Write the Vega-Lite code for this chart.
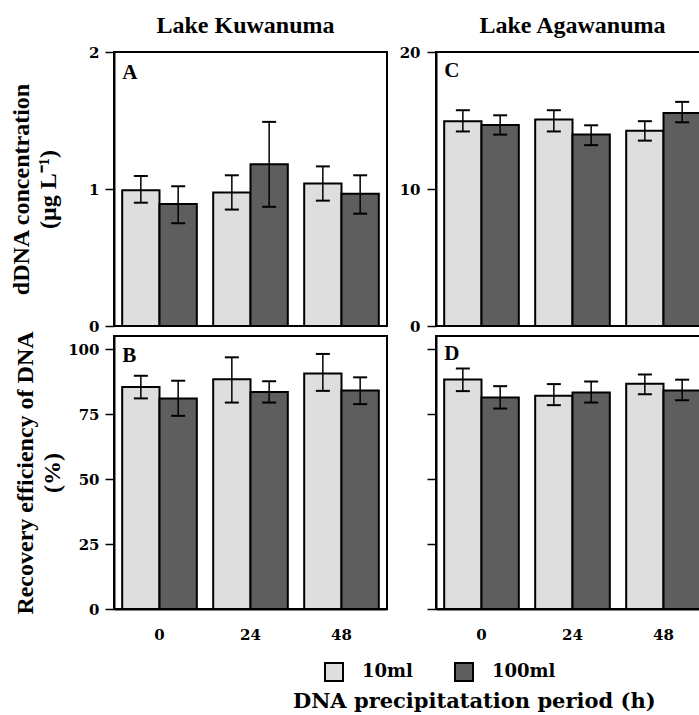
{
  "$schema": "https://vega.github.io/schema/vega-lite/v6.json",
  "background": "white",
  "padding": {"left": 8, "top": 13, "right": 0, "bottom": 4},
  "datasets": {
    "bars": [
      {"panel": "A", "time": "0", "volume": "10ml", "value": 0.99, "lo": 0.9, "hi": 1.095},
      {"panel": "A", "time": "0", "volume": "100ml", "value": 0.89, "lo": 0.75, "hi": 1.02},
      {"panel": "A", "time": "24", "volume": "10ml", "value": 0.975, "lo": 0.85, "hi": 1.1},
      {"panel": "A", "time": "24", "volume": "100ml", "value": 1.18, "lo": 0.87, "hi": 1.49},
      {"panel": "A", "time": "48", "volume": "10ml", "value": 1.04, "lo": 0.915, "hi": 1.165},
      {"panel": "A", "time": "48", "volume": "100ml", "value": 0.965, "lo": 0.82, "hi": 1.1},
      {"panel": "C", "time": "0", "volume": "10ml", "value": 14.95, "lo": 14.2, "hi": 15.75},
      {"panel": "C", "time": "0", "volume": "100ml", "value": 14.68, "lo": 13.97, "hi": 15.38},
      {"panel": "C", "time": "24", "volume": "10ml", "value": 15.07, "lo": 14.2, "hi": 15.75},
      {"panel": "C", "time": "24", "volume": "100ml", "value": 13.97, "lo": 13.2, "hi": 14.65},
      {"panel": "C", "time": "48", "volume": "10ml", "value": 14.26, "lo": 13.53, "hi": 14.95},
      {"panel": "C", "time": "48", "volume": "100ml", "value": 15.55, "lo": 14.87, "hi": 16.36},
      {"panel": "B", "time": "0", "volume": "10ml", "value": 85.4, "lo": 81.0, "hi": 89.7},
      {"panel": "B", "time": "0", "volume": "100ml", "value": 81.0, "lo": 74.3, "hi": 87.8},
      {"panel": "B", "time": "24", "volume": "10ml", "value": 88.4, "lo": 79.4, "hi": 96.8},
      {"panel": "B", "time": "24", "volume": "100ml", "value": 83.5, "lo": 79.4, "hi": 87.6},
      {"panel": "B", "time": "48", "volume": "10ml", "value": 90.6, "lo": 83.9, "hi": 98.1},
      {"panel": "B", "time": "48", "volume": "100ml", "value": 84.0, "lo": 78.8, "hi": 89.1},
      {"panel": "D", "time": "0", "volume": "10ml", "value": 88.3, "lo": 83.8, "hi": 92.5},
      {"panel": "D", "time": "0", "volume": "100ml", "value": 81.3, "lo": 77.1, "hi": 85.7},
      {"panel": "D", "time": "24", "volume": "10ml", "value": 82.0, "lo": 78.4, "hi": 86.5},
      {"panel": "D", "time": "24", "volume": "100ml", "value": 83.3, "lo": 79.4, "hi": 87.5},
      {"panel": "D", "time": "48", "volume": "10ml", "value": 86.6, "lo": 82.6, "hi": 90.2},
      {"panel": "D", "time": "48", "volume": "100ml", "value": 84.0, "lo": 80.3, "hi": 88.2}
    ]
  },
  "title": {
    "text": "DNA precipitatation period (h)",
    "orient": "bottom",
    "anchor": "middle",
    "frame": "bounds",
    "dx": 115,
    "offset": 6,
    "font": "DejaVu Serif",
    "fontSize": 21,
    "fontWeight": "bold",
    "color": "black"
  },
  "columns": 2,
  "bounds": "flush",
  "spacing": {"row": 10, "column": 49},
  "resolve": {"scale": {"color": "shared"}, "legend": {"color": "shared"}},
  "concat": [
    {
      "width": 273,
      "height": 274,
      "title": {"text": "Lake Kuwanuma", "dx": -5},
      "data": {"name": "bars"},
      "transform": [{"filter": "datum.panel === 'A'"}],
      "layer": [
        {
          "mark": {"type": "bar", "stroke": "black", "strokeWidth": 2},
          "encoding": {
            "x": {"field": "time", "type": "nominal", "scale": {"domain": ["0", "24", "48"], "paddingInner": 0.18, "paddingOuter": 0.09}, "axis": null},
            "xOffset": {"field": "volume", "type": "nominal", "scale": {"domain": ["10ml", "100ml"], "paddingInner": 0, "paddingOuter": 0}},
            "y": {"field": "value", "type": "quantitative", "scale": {"domain": [0, 2], "nice": false, "zero": true},
              "axis": {"values": [0, 1, 2], "format": ".0f", "title": ["dDNA concentration", "(μg L⁻¹)"], "titlePadding": 28, "titleLineHeight": 27}},
            "color": {"field": "volume", "type": "nominal", "scale": {"domain": ["10ml", "100ml"], "range": ["#dedede", "#5e5e5e"]},
              "legend": {"title": null, "orient": "none", "legendX": 210, "legendY": 610, "direction": "horizontal"}}
          }
        },
        {
          "mark": {"type": "rule", "color": "black", "strokeWidth": 1.5},
          "encoding": {
            "x": {"field": "time", "type": "nominal"},
            "xOffset": {"field": "volume", "type": "nominal"},
            "y": {"field": "lo", "type": "quantitative"},
            "y2": {"field": "hi"}
          }
        },
        {
          "mark": {"type": "tick", "color": "black", "size": 14, "thickness": 2, "opacity": 1},
          "encoding": {
            "x": {"field": "time", "type": "nominal"},
            "xOffset": {"field": "volume", "type": "nominal"},
            "y": {"field": "hi", "type": "quantitative"}
          }
        },
        {
          "mark": {"type": "tick", "color": "black", "size": 14, "thickness": 2, "opacity": 1},
          "encoding": {
            "x": {"field": "time", "type": "nominal"},
            "xOffset": {"field": "volume", "type": "nominal"},
            "y": {"field": "lo", "type": "quantitative"}
          }
        },
        {
          "data": {"values": [{"label": "A"}]},
          "mark": {"type": "text", "font": "Liberation Serif", "fontSize": 21, "fontWeight": "bold", "align": "left", "baseline": "middle", "color": "black"},
          "encoding": {
            "x": {"datum": "0", "type": "nominal", "bandPosition": 0},
            "y": {"datum": 1.85, "type": "quantitative"},
            "text": {"field": "label"}
          }
        }
      ]
    },
    {
      "width": 273,
      "height": 274,
      "title": {"text": "Lake Agawanuma"},
      "data": {"name": "bars"},
      "transform": [{"filter": "datum.panel === 'C'"}],
      "layer": [
        {
          "mark": {"type": "bar", "stroke": "black", "strokeWidth": 2},
          "encoding": {
            "x": {"field": "time", "type": "nominal", "scale": {"domain": ["0", "24", "48"], "paddingInner": 0.18, "paddingOuter": 0.09}, "axis": null},
            "xOffset": {"field": "volume", "type": "nominal", "scale": {"domain": ["10ml", "100ml"], "paddingInner": 0, "paddingOuter": 0}},
            "y": {"field": "value", "type": "quantitative", "scale": {"domain": [0, 20], "nice": false, "zero": true},
              "axis": {"values": [0, 10, 20], "format": "d", "title": null, "labelPadding": 7}},
            "color": {"field": "volume", "type": "nominal", "scale": {"domain": ["10ml", "100ml"], "range": ["#dedede", "#5e5e5e"]},
              "legend": {"title": null, "orient": "none", "legendX": 210, "legendY": 610, "direction": "horizontal"}}
          }
        },
        {
          "mark": {"type": "rule", "color": "black", "strokeWidth": 1.5},
          "encoding": {
            "x": {"field": "time", "type": "nominal"},
            "xOffset": {"field": "volume", "type": "nominal"},
            "y": {"field": "lo", "type": "quantitative"},
            "y2": {"field": "hi"}
          }
        },
        {
          "mark": {"type": "tick", "color": "black", "size": 14, "thickness": 2, "opacity": 1},
          "encoding": {
            "x": {"field": "time", "type": "nominal"},
            "xOffset": {"field": "volume", "type": "nominal"},
            "y": {"field": "hi", "type": "quantitative"}
          }
        },
        {
          "mark": {"type": "tick", "color": "black", "size": 14, "thickness": 2, "opacity": 1},
          "encoding": {
            "x": {"field": "time", "type": "nominal"},
            "xOffset": {"field": "volume", "type": "nominal"},
            "y": {"field": "lo", "type": "quantitative"}
          }
        },
        {
          "data": {"values": [{"label": "C"}]},
          "mark": {"type": "text", "font": "Liberation Serif", "fontSize": 21, "fontWeight": "bold", "align": "left", "baseline": "middle", "color": "black"},
          "encoding": {
            "x": {"datum": "0", "type": "nominal", "bandPosition": 0},
            "y": {"datum": 18.6, "type": "quantitative"},
            "text": {"field": "label"}
          }
        }
      ]
    },
    {
      "width": 273,
      "height": 273,
      "data": {"name": "bars"},
      "transform": [{"filter": "datum.panel === 'B'"}],
      "layer": [
        {
          "mark": {"type": "bar", "stroke": "black", "strokeWidth": 2},
          "encoding": {
            "x": {"field": "time", "type": "nominal", "scale": {"domain": ["0", "24", "48"], "paddingInner": 0.18, "paddingOuter": 0.09},
              "axis": {"title": null, "ticks": false, "labelPadding": 18, "labelAngle": 0}},
            "xOffset": {"field": "volume", "type": "nominal", "scale": {"domain": ["10ml", "100ml"], "paddingInner": 0, "paddingOuter": 0}},
            "y": {"field": "value", "type": "quantitative", "scale": {"domain": [0, 105], "nice": false, "zero": true},
              "axis": {"values": [0, 25, 50, 75, 100], "format": "d", "title": ["Recovery efficiency of DNA", "(%)"], "titlePadding": 3, "titleLineHeight": 27}},
            "color": {"field": "volume", "type": "nominal", "scale": {"domain": ["10ml", "100ml"], "range": ["#dedede", "#5e5e5e"]},
              "legend": {"title": null, "orient": "none", "legendX": 210, "legendY": 610, "direction": "horizontal"}}
          }
        },
        {
          "mark": {"type": "rule", "color": "black", "strokeWidth": 1.5},
          "encoding": {
            "x": {"field": "time", "type": "nominal"},
            "xOffset": {"field": "volume", "type": "nominal"},
            "y": {"field": "lo", "type": "quantitative"},
            "y2": {"field": "hi"}
          }
        },
        {
          "mark": {"type": "tick", "color": "black", "size": 14, "thickness": 2, "opacity": 1},
          "encoding": {
            "x": {"field": "time", "type": "nominal"},
            "xOffset": {"field": "volume", "type": "nominal"},
            "y": {"field": "hi", "type": "quantitative"}
          }
        },
        {
          "mark": {"type": "tick", "color": "black", "size": 14, "thickness": 2, "opacity": 1},
          "encoding": {
            "x": {"field": "time", "type": "nominal"},
            "xOffset": {"field": "volume", "type": "nominal"},
            "y": {"field": "lo", "type": "quantitative"}
          }
        },
        {
          "data": {"values": [{"label": "B"}]},
          "mark": {"type": "text", "font": "Liberation Serif", "fontSize": 21, "fontWeight": "bold", "align": "left", "baseline": "middle", "color": "black"},
          "encoding": {
            "x": {"datum": "0", "type": "nominal", "bandPosition": 0},
            "y": {"datum": 97.5, "type": "quantitative"},
            "text": {"field": "label"}
          }
        }
      ]
    },
    {
      "width": 273,
      "height": 273,
      "data": {"name": "bars"},
      "transform": [{"filter": "datum.panel === 'D'"}],
      "layer": [
        {
          "mark": {"type": "bar", "stroke": "black", "strokeWidth": 2},
          "encoding": {
            "x": {"field": "time", "type": "nominal", "scale": {"domain": ["0", "24", "48"], "paddingInner": 0.18, "paddingOuter": 0.09},
              "axis": {"title": null, "ticks": false, "labelPadding": 18, "labelAngle": 0}},
            "xOffset": {"field": "volume", "type": "nominal", "scale": {"domain": ["10ml", "100ml"], "paddingInner": 0, "paddingOuter": 0}},
            "y": {"field": "value", "type": "quantitative", "scale": {"domain": [0, 105], "nice": false, "zero": true},
              "axis": {"values": [0, 25, 50, 75, 100], "title": null, "labels": false}},
            "color": {"field": "volume", "type": "nominal", "scale": {"domain": ["10ml", "100ml"], "range": ["#dedede", "#5e5e5e"]},
              "legend": {"title": null, "orient": "none", "legendX": 210, "legendY": 610, "direction": "horizontal"}}
          }
        },
        {
          "mark": {"type": "rule", "color": "black", "strokeWidth": 1.5},
          "encoding": {
            "x": {"field": "time", "type": "nominal"},
            "xOffset": {"field": "volume", "type": "nominal"},
            "y": {"field": "lo", "type": "quantitative"},
            "y2": {"field": "hi"}
          }
        },
        {
          "mark": {"type": "tick", "color": "black", "size": 14, "thickness": 2, "opacity": 1},
          "encoding": {
            "x": {"field": "time", "type": "nominal"},
            "xOffset": {"field": "volume", "type": "nominal"},
            "y": {"field": "hi", "type": "quantitative"}
          }
        },
        {
          "mark": {"type": "tick", "color": "black", "size": 14, "thickness": 2, "opacity": 1},
          "encoding": {
            "x": {"field": "time", "type": "nominal"},
            "xOffset": {"field": "volume", "type": "nominal"},
            "y": {"field": "lo", "type": "quantitative"}
          }
        },
        {
          "data": {"values": [{"label": "D"}]},
          "mark": {"type": "text", "font": "Liberation Serif", "fontSize": 21, "fontWeight": "bold", "align": "left", "baseline": "middle", "color": "black"},
          "encoding": {
            "x": {"datum": "0", "type": "nominal", "bandPosition": 0},
            "y": {"datum": 98, "type": "quantitative"},
            "text": {"field": "label"}
          }
        }
      ]
    }
  ],
  "config": {
    "view": {"stroke": "black", "strokeWidth": 2},
    "axis": {
      "domainColor": "black", "domainWidth": 2,
      "tickColor": "black", "tickWidth": 1.5, "tickSize": 9,
      "labelFont": "DejaVu Serif", "labelFontSize": 15, "labelFontWeight": "bold", "labelColor": "black", "labelPadding": 6,
      "labelOverlap": false,
      "grid": false,
      "titleFont": "Liberation Serif", "titleFontSize": 24, "titleFontWeight": "bold", "titleColor": "black"
    },
    "title": {"font": "Liberation Serif", "fontSize": 24, "fontWeight": "bold", "color": "black", "frame": "group", "anchor": "middle", "offset": 7},
    "legend": {
      "symbolType": "square", "symbolSize": 324, "symbolStrokeColor": "black", "symbolStrokeWidth": 2, "symbolOpacity": 1,
      "labelFont": "DejaVu Serif", "labelFontSize": 18, "labelFontWeight": "bold", "labelColor": "black",
      "labelOffset": 18, "columnPadding": 38
    }
  }
}
